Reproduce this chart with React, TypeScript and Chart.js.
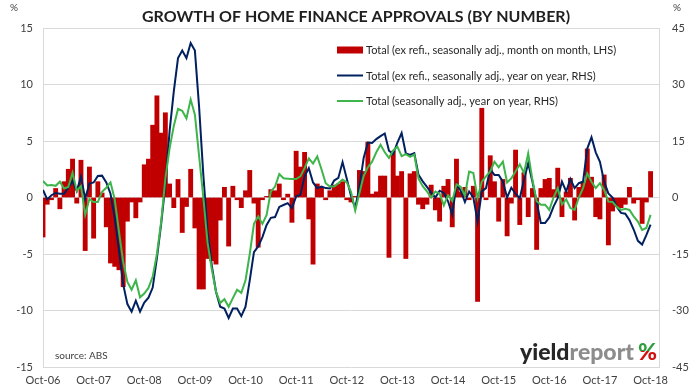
import React, { useEffect, useRef } from 'react';
import { Chart, registerables } from 'chart.js';

Chart.register(...registerables);

const chartTitle = 'GROWTH OF HOME FINANCE APPROVALS (BY NUMBER)';
const sourceNote = 'source: ABS';
const unitLabel = '%';

// x-axis tick labels, one every 12 months starting with the first month of data
const xTickLabels = ['Oct-06', 'Oct-07', 'Oct-08', 'Oct-09', 'Oct-10', 'Oct-11', 'Oct-12', 'Oct-13', 'Oct-14', 'Oct-15', 'Oct-16', 'Oct-17', 'Oct-18'];
const monthsPerTick = 12;
const axisMonths = 146; // axis runs to Dec-18

const seriesLabels = [
  'Total (ex refi., seasonally adj., month on month, LHS)',
  'Total (ex refi., seasonally adj., year on year, RHS)',
  'Total (seasonally adj., year on year, RHS)',
];

// Monthly % change (LHS), Oct-06 .. Oct-18
const momChange = [
  -3.5, -0.6, -0.2, 0.8, -1.0, 1.4, 2.5, 3.4, -0.5, 3.3,
  -4.7, 2.7, -3.6, 1.4, 0.4, -2.6, -5.8, -6.1, -6.4, -7.9,
  -2.1, -0.4, -1.8, -0.4, 2.9, 3.4, 6.4, 9.0, 5.7, 7.5,
  1.2, -0.9, 1.6, -3.1, -0.8, 2.5, -2.7, -8.1, -8.1, -5.4,
  -5.6, -5.9, -2.0, 0.9, -4.3, 1.0, -0.2, -0.9, 0.6, 2.4,
  -0.5, -4.4, -0.2, 0.1, 0.7, 0.6, 1.2, -0.2, 0.3, -2.2,
  4.1, 2.7, 4.0, -1.9, -5.9, 1.2, 0.9, -0.2, 0.6, 1.1,
  1.2, 1.4, -0.2, -0.4, 0.1, 2.4, 2.3, 4.9, 0.3, 0.5,
  1.9, 1.9, -5.3, 4.1, 1.9, 2.3, -5.4, 2.1, 2.3, -0.6,
  -1.0, -0.6, 1.1, -1.1, -2.1, 1.0, 1.6, -2.6, 3.4, 0.5,
  0.9, -0.2, 1.0, -9.2, 7.9, -0.2, 3.7, 1.4, -2.1, 1.6,
  -3.4, -0.5, 4.2, -2.4, 2.2, -1.7, 0.8, -4.6, 0.8, 1.6,
  1.7, 0.7, 2.6, -1.7, 0.5, 1.7, -2.0, 0.9, 1.4, 4.3,
  1.8, -1.7, -1.9, 2.0, -4.2, -1.2, -0.8, -0.9, -0.6, 0.9,
  -0.5, -0.2, -2.3, -0.4, 2.3,
];

// Year-on-year % change ex refinancing (RHS)
const yoyExRefi = [
  2, -0.5, 0.6, 1.2, 1, 1, 2.6, 4.4, 1.7, 5.5,
  -0.3, 3.7, 4, 5.7, 5.8, 4, 1, -5.4, -14, -23,
  -28.3, -30.3, -27.4, -30.3, -27.9, -26.6, -23.9, -16, -7.1, 3.4,
  17.6, 28.2, 37, 39, 37, 41, 39, 24, 6, -9,
  -18, -25, -29, -29.5, -32, -29.5, -29.5, -31.5, -29, -22,
  -14.5, -13, -10.5, -7.3, -5.4, -5.2, -2.5, -2, -1.5, -2.8,
  0.3, 0.7, 5.6, 7.8, 4, 2.5, 2.9, 2.5, 2.4, 4.5,
  5.2, 9.4, 5, 0.4, -2.8, 2.8, 10.5, 14.6, 14.5, 15.5,
  16.3, 17, 12.4, 11.5, 14.6, 17.1, 11.7, 11.3, 11.8, 6,
  4.3, 2.8, 1.3, 0, 1.8, 1.2, -1, -4.5, 3.5, 1.8,
  -1.2, 1.6, 0, -6.4, 1.6, 2.5, 7.5, 6, 6, 4.2,
  0, 2.6, 1, -0.2, 4.7, 9.1, 4.2, -1.1, -6.8, -6.8,
  -5.3, -2.4, -0.2, 4.2, 1.6, 4.9, 2.5, 3.8, 4.2, 13,
  16, 12, 9.5, 4.2, 1.1, 0, -2.5, -4.1, -4.3, -6,
  -8.5, -11.5, -12.5, -10, -7.2,
];

// Year-on-year % change total (RHS)
const yoyTotal = [
  4.4, 3.2, 3.3, 3.1, 4.2, 2.4, 2.8, 6.6, 1.8, 3.0,
  -4.6, -0.4, -1.2, -1.2, 1.5, 2.6, 4.0, -0.5, -9, -17,
  -22.4, -24.5, -22, -26.5, -25.5, -24, -21, -15, -6.5, 5,
  13, 19, 23.5, 23, 21, 26, 22, 11, 0, -12,
  -19, -25, -28, -27, -29, -26.7, -24.5, -25.3, -22, -15,
  -7, -5, -7, -4.6, 1.6, 2.9, 6.2, 5.1, 5, 4.9,
  4.9, 5.6, 7.8, 10.4, 9, 10.9, 7.5, 3.8, 2.9, 2.9,
  3.8, 4.8, 4, 1.5, -3.5, 1.2, 5.7, 8, 9.5, 12,
  14, 12, 10.5, 12.5, 13.5, 11, 11.5, 10.8, 11.4, 5,
  3, 1.6, 0, 1.6, 1, -2.1, 0.6, -0.9, 3.5, 2.8,
  0.5, 6.9, 6.5, -0.2, 4.2, 5.6, 6.9, 9.5, 8, 9.5,
  4, 5.1, 6.9, 8.8, 6.5, 11.7, 4.7, -1, -1.9, -1.9,
  -3.3, 0, 2.5, -1.9, -0.5, -2.8, -3.3, 0, 2.5, 6.4,
  4.2, 2.5, 3.8, 2, -1.1, -1.2, -2.5, -3.3, -3, -3.3,
  -5, -6.4, -8.6, -8.1, -4.6,
];

const leftAxisRange = [-15, 15];
const leftAxisStep = 5;
const rightAxisRange = [-45, 45];
const rightAxisStep = 15;

const COLORS = {
  bar: '#C00000',
  navy: '#002060',
  green: '#3DB54A',
  grid: '#D9D9D9',
  text: '#404040',
};
const FONT = 'Lato, "Noto Sans", sans-serif';

const decorPlugin = {
  id: 'decor',
  afterDraw(chart: any) {
    const { ctx, chartArea: ca } = chart;
    ctx.save();
    // title
    ctx.fillStyle = '#1f1f1f';
    ctx.font = `bold 16px ${FONT}`;
    ctx.textAlign = 'center';
    ctx.textBaseline = 'middle';
    ctx.fillText(chartTitle, 356, 17);
    // unit labels
    ctx.fillStyle = COLORS.text;
    ctx.font = `10px ${FONT}`;
    ctx.fillText(unitLabel, 14, 8);
    ctx.fillText(unitLabel, 677, 8);
    // legend
    const mx = ca.left + 294;
    ctx.textAlign = 'left';
    ctx.font = `11px ${FONT}`;
    chart.data.datasets.forEach((ds: any, k: number) => {
      const y = ca.top + 22 + k * 25.5;
      if (ds.type === 'bar') {
        ctx.fillStyle = ds.backgroundColor;
        ctx.fillRect(mx, y - 3.5, 26, 7);
      } else {
        ctx.strokeStyle = ds.borderColor;
        ctx.lineWidth = 2;
        ctx.beginPath();
        ctx.moveTo(mx, y);
        ctx.lineTo(mx + 26, y);
        ctx.stroke();
      }
      ctx.fillStyle = '#262626';
      ctx.fillText(ds.label, mx + 29, y + 0.5);
    });
    // source
    ctx.fillStyle = COLORS.text;
    ctx.font = `10px ${FONT}`;
    ctx.fillText(sourceNote, ca.left + 12, ca.bottom - 11.5);
    // logo
    const base = ca.bottom - 7;
    const right = ca.right - 2;
    ctx.textBaseline = 'alphabetic';
    ctx.font = `900 23px ${FONT}`;
    const wPct = ctx.measureText('%').width;
    const wRep = ctx.measureText('report').width;
    const wYield = ctx.measureText('yield').width;
    const xPct = right - wPct;
    const xRep = xPct - 4 - wRep;
    const xYield = xRep - wYield;
    ctx.fillStyle = '#262626';
    ctx.fillText('yield', xYield, base);
    ctx.fillStyle = '#8C8C8C';
    ctx.fillText('report', xRep, base);
    const g = ctx.createLinearGradient(0, base - 17, 0, base);
    g.addColorStop(0, '#2E9E3E');
    g.addColorStop(0.5, '#2E9E3E');
    g.addColorStop(0.5, '#D01010');
    g.addColorStop(1, '#D01010');
    ctx.fillStyle = g;
    ctx.fillText('%', xPct, base);
    ctx.restore();
  },
};

export default function App() {
  const canvasRef = useRef<HTMLCanvasElement | null>(null);

  useEffect(() => {
    if (!canvasRef.current) return;
    const toPoints = (arr: number[]) => arr.map((v, i) => ({ x: i, y: v }));
    const chart = new Chart(canvasRef.current, {
      type: 'bar',
      data: {
        datasets: [
          {
            type: 'bar',
            label: seriesLabels[0],
            data: toPoints(momChange),
            backgroundColor: COLORS.bar,
            borderWidth: 0,
            barPercentage: 1,
            categoryPercentage: 1,
            xAxisID: 'x',
            yAxisID: 'y',
            order: 3,
          },
          {
            type: 'line',
            label: seriesLabels[1],
            data: toPoints(yoyExRefi),
            borderColor: COLORS.navy,
            backgroundColor: COLORS.navy,
            borderWidth: 2,
            pointRadius: 0,
            tension: 0,
            xAxisID: 'x',
            yAxisID: 'y2',
            order: 2,
          },
          {
            type: 'line',
            label: seriesLabels[2],
            data: toPoints(yoyTotal),
            borderColor: COLORS.green,
            backgroundColor: COLORS.green,
            borderWidth: 2,
            pointRadius: 0,
            tension: 0,
            xAxisID: 'x',
            yAxisID: 'y2',
            order: 1,
          },
        ] as any,
      },
      options: {
        animation: false,
        responsive: true,
        maintainAspectRatio: false,
        devicePixelRatio: 1,
        layout: { padding: { top: 28, left: 0, right: 0, bottom: 0 } },
        plugins: {
          legend: { display: false },
          tooltip: { enabled: false },
          title: { display: false },
        },
        scales: {
          x: {
            type: 'linear',
            position: 'bottom',
            min: 0,
            max: axisMonths,
            offset: false,
            grid: { display: false, drawTicks: false },
            border: { display: false },
            afterBuildTicks: (scale: any) => {
              scale.ticks = xTickLabels.map((_, k) => ({ value: k * monthsPerTick }));
            },
            afterFit: (scale: any) => {
              scale.height = 25;
              scale.paddingLeft = 0;
              scale.paddingRight = 0;
            },
            ticks: {
              autoSkip: false,
              maxRotation: 0,
              minRotation: 0,
              padding: 7,
              color: COLORS.text,
              font: { family: FONT, size: 11 },
              callback: (v: any) => xTickLabels[Math.round(Number(v) / monthsPerTick)] ?? '',
            },
          },
          y: {
            type: 'linear',
            position: 'left',
            min: leftAxisRange[0],
            max: leftAxisRange[1],
            grid: { color: COLORS.grid, lineWidth: 1, drawTicks: false },
            border: { display: true, color: COLORS.grid, width: 1 },
            afterFit: (scale: any) => {
              scale.width = 43;
            },
            ticks: {
              stepSize: leftAxisStep,
              padding: 10,
              color: COLORS.text,
              font: { family: FONT, size: 11 },
            },
          },
          y2: {
            type: 'linear',
            position: 'right',
            min: rightAxisRange[0],
            max: rightAxisRange[1],
            grid: { display: false, drawTicks: false },
            border: { display: true, color: COLORS.grid, width: 1 },
            afterFit: (scale: any) => {
              scale.width = 40;
            },
            ticks: {
              stepSize: rightAxisStep,
              padding: 13,
              color: COLORS.text,
              font: { family: FONT, size: 11 },
            },
          },
        },
      } as any,
      plugins: [decorPlugin],
    });
    return () => chart.destroy();
  }, []);

  return (
    <div style={{ position: 'fixed', left: 0, top: 0, width: 699, height: 392, background: '#fff' }}>
      <canvas ref={canvasRef} />
    </div>
  );
}
